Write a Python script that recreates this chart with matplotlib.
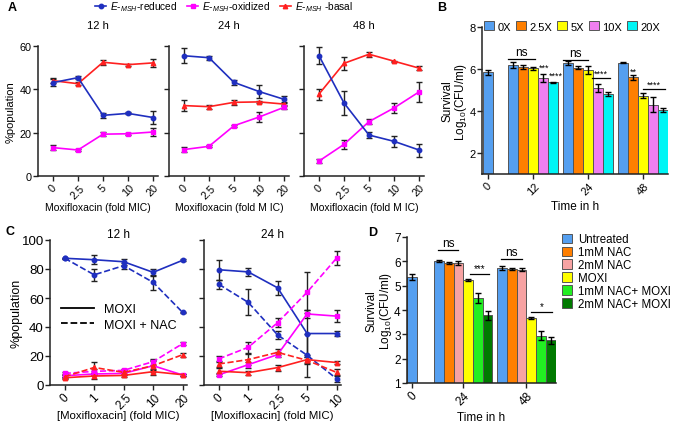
import matplotlib
matplotlib.use("Agg")
import matplotlib.pyplot as plt
import numpy as np
from matplotlib.lines import Line2D

plt.rcParams["font.family"] = ["Liberation Sans", "DejaVu Sans"]
plt.rcParams["mathtext.fontset"] = "custom"
plt.rcParams["mathtext.rm"] = "Liberation Sans"
plt.rcParams["mathtext.it"] = "Liberation Sans:italic"

#  Panel A data (%population vs fold MIC) 
a_conc = ["0", "2.5", "5", "10", "20"]
a_times = ["12 h", "24 h", "48 h"]
a_xlabels = ["Moxifloxacin (fold MIC)", "Moxifloxacin (fold M IC)", "Moxifloxacin (fold M IC)"]

a12_red = [43.1, 45.4, 28.0, 28.9, 27.0]
a12_red_err = [1.5, 0.8, 1.0, 0.5, 3.0]
a12_oxi = [13.1, 12.0, 19.3, 19.5, 20.3]
a12_oxi_err = [1.2, 0.5, 0.8, 0.5, 1.8]
a12_bas = [44.0, 42.6, 52.5, 51.4, 52.2]
a12_bas_err = [1.2, 0.8, 1.2, 0.5, 2.0]

a24_red = [55.5, 54.6, 43.2, 39.0, 35.4]
a24_red_err = [3.5, 1.0, 1.2, 3.0, 1.5]
a24_oxi = [12.2, 13.7, 23.2, 27.2, 31.7]
a24_oxi_err = [1.0, 0.5, 0.5, 2.5, 1.0]
a24_bas = [32.5, 32.0, 34.0, 34.2, 33.2]
a24_bas_err = [2.5, 1.0, 1.0, 0.5, 1.0]

a48_red = [55.5, 33.7, 18.9, 16.0, 12.0]
a48_red_err = [4.0, 5.5, 1.5, 2.5, 3.0]
a48_oxi = [6.9, 14.6, 25.1, 31.4, 38.8]
a48_oxi_err = [0.8, 2.0, 1.2, 2.5, 4.5]
a48_bas = [37.8, 52.0, 56.2, 53.0, 49.8]
a48_bas_err = [2.5, 3.0, 1.2, 0.3, 1.0]

#  Panel B data (survival, log10 CFU/ml) 
b_times = ["0", "12", "24", "48"]
b_doses = ["0X", "2.5X", "5X", "10X", "20X"]
b_t0 = 5.85
b_t0_err = 0.12
# rows = doses, columns = 12, 24, 48 h
b_vals = [[6.19, 6.30, 6.30],
          [6.08, 6.07, 5.61],
          [6.03, 5.95, 4.73],
          [5.56, 5.09, 4.30],
          [5.36, 4.80, 4.04]]
b_errs = [[0.12, 0.10, 0.02],
          [0.10, 0.05, 0.12],
          [0.07, 0.20, 0.12],
          [0.20, 0.20, 0.35],
          [0.04, 0.10, 0.08]]

#  Panel C data (%population, MOXI vs MOXI + NAC) 
c12_conc = ["0", "1", "2.5", "10", "20"]
c12_red_m = [87.4, 86.4, 85.0, 77.7, 86.0]
c12_red_m_err = [0.5, 3.0, 2.0, 2.5, 0.8]
c12_red_n = [87.4, 76.0, 82.3, 70.8, 50.1]
c12_red_n_err = [0.5, 4.0, 2.0, 5.0, 0.5]
c12_oxi_m = [6.4, 7.6, 8.0, 13.3, 6.9]
c12_oxi_m_err = [1.0, 1.0, 1.0, 3.0, 1.0]
c12_oxi_n = [8.0, 9.4, 10.1, 16.1, 28.5]
c12_oxi_n_err = [1.0, 1.5, 1.0, 2.0, 1.0]
c12_bas_m = [5.0, 6.2, 6.6, 9.2, 7.1]
c12_bas_m_err = [0.8, 2.0, 1.0, 2.0, 0.8]
c12_bas_n = [5.7, 12.1, 8.7, 13.3, 20.9]
c12_bas_n_err = [1.0, 3.5, 1.5, 4.0, 1.5]

c24_conc = ["0", "1", "2.5", "5", "10"]
c24_red_m = [79.5, 78.0, 67.0, 35.5, 35.5]
c24_red_m_err = [7.0, 3.0, 5.0, 16.0, 1.5]
c24_red_n = [69.5, 57.0, 34.5, 20.5, 4.3]
c24_red_n_err = [3.0, 9.0, 3.0, 15.0, 2.0]
c24_oxi_m = [7.0, 14.0, 21.0, 49.0, 47.5]
c24_oxi_m_err = [1.0, 2.0, 2.0, 3.0, 4.0]
c24_oxi_n = [18.0, 26.0, 43.0, 64.0, 87.5]
c24_oxi_n_err = [2.0, 4.0, 3.0, 14.0, 5.0]
c24_bas_m = [9.5, 8.5, 12.0, 17.5, 15.5]
c24_bas_m_err = [2.0, 1.5, 2.0, 3.0, 1.0]
c24_bas_n = [14.5, 17.5, 22.5, 17.0, 8.7]
c24_bas_n_err = [2.0, 4.0, 2.0, 2.0, 2.0]

#  Panel D data (survival with NAC) 
d_times = ["0", "24", "48"]
d_groups = ["Untreated", "1mM NAC", "2mM NAC", "MOXI", "1mM NAC+ MOXI", "2mM NAC+ MOXI"]
d_t0 = 5.35
d_t0_err = 0.12
d24 = [6.02, 5.93, 5.93, 5.22, 4.50, 3.78]
d24_err = [0.05, 0.04, 0.08, 0.04, 0.20, 0.18]
d48 = [5.72, 5.69, 5.66, 3.67, 2.95, 2.75]
d48_err = [0.08, 0.03, 0.07, 0.05, 0.18, 0.15]

#  Colours 
BLUE = "#1f2fbf"
MAGENTA = "#ff00ff"
RED = "#ff2020"
b_colors = ["#559ff0", "#ff7f00", "#ffff00", "#f07ff0", "#00f5f5"]
d_colors = ["#559ff0", "#ff7f00", "#f7a3a3", "#ffff00", "#22ee22", "#007a00"]

W, H = 675, 427
fig = plt.figure(figsize=(W / 100, H / 100), dpi=100)


def px_axes(l, t, r, b):
    return fig.add_axes([l / W, 1 - b / H, (r - l) / W, (b - t) / H])


def style(ax, fs=8):
    for s in ["top", "right"]:
        ax.spines[s].set_visible(False)
    for s in ["left", "bottom"]:
        ax.spines[s].set_linewidth(1.1)
        ax.spines[s].set_color("#222222")
    ax.tick_params(direction="out", length=3.5, width=1.0, labelsize=fs, pad=1, color="#222222")


def line(ax, y, e, color, marker, ls="-"):
    x = np.arange(len(y))
    ax.errorbar(x, y, yerr=e, color=color, marker=marker, ms=3.2, lw=1.2, ls=ls,
                ecolor="#222222", elinewidth=1.0, capsize=2, capthick=1.0)


#  Panel A 
a_data = [
    (a12_red, a12_red_err, a12_oxi, a12_oxi_err, a12_bas, a12_bas_err),
    (a24_red, a24_red_err, a24_oxi, a24_oxi_err, a24_bas, a24_bas_err),
    (a48_red, a48_red_err, a48_oxi, a48_oxi_err, a48_bas, a48_bas_err),
]
a_left = [38, 169, 304]
for i, (red, red_e, oxi, oxi_e, bas, bas_e) in enumerate(a_data):
    ax = px_axes(a_left[i], 47, a_left[i] + 120, 177)
    style(ax, fs=7.8)
    line(ax, bas, bas_e, RED, "^")
    line(ax, oxi, oxi_e, MAGENTA, "s")
    line(ax, red, red_e, BLUE, "o")
    ax.set_xlim(-0.6, 4.2)
    ax.set_ylim(0, 60)
    ax.set_yticks([0, 20, 40, 60])
    ax.set_xticks(range(len(a_conc)))
    ax.set_xticklabels(a_conc, rotation=45)
    ax.set_title(a_times[i], fontsize=8, pad=13)
    ax.set_xlabel(a_xlabels[i], fontsize=7.5)
    ax.xaxis.set_label_coords(0.5, -0.2)
    if i == 0:
        ax.set_ylabel("%population", fontsize=8)
        ax.yaxis.set_label_coords(-0.19, 0.5)
    else:
        ax.set_yticklabels([])

a_handles = [
    Line2D([], [], color=BLUE, marker="o", ms=3.2, lw=1.2),
    Line2D([], [], color=MAGENTA, marker="s", ms=3.2, lw=1.2),
    Line2D([], [], color=RED, marker="^", ms=3.2, lw=1.2),
]
a_labels = [r"$E$-$_{MSH}$-reduced", r"$E$-$_{MSH}$-oxidized", r"$E$-$_{MSH}$ -basal"]
fig.legend(a_handles, a_labels, loc="center", bbox_to_anchor=(224 / W, 1 - 7 / H), ncol=3,
           frameon=False, fontsize=7.3, handlelength=1.1, handletextpad=0.4, columnspacing=0.9,
           borderpad=0)

#  Panel B 
axb = px_axes(482, 28, 668, 175)
style(axb, fs=8)
b_centers = [-4.5, 0.0, 5.5, 11.0]
b_offsets = [-2, -1, 0, 1, 2]
bar_kw = dict(width=1.0, edgecolor="#555555", linewidth=0.7, capsize=2,
              error_kw=dict(elinewidth=1.0, capthick=1.0, ecolor="black"))
axb.bar(b_centers[0], b_t0, yerr=b_t0_err, color=b_colors[0], **bar_kw)
for j, dose in enumerate(b_doses):
    xs = [b_centers[k + 1] + b_offsets[j] for k in range(3)]
    axb.bar(xs, b_vals[j], yerr=b_errs[j], color=b_colors[j], label=dose, **bar_kw)
axb.set_xlim(-5.1, 13.5)
axb.set_ylim(1, 8)
axb.set_yticks([2, 4, 6, 8])
axb.set_xticks(b_centers)
axb.set_xticklabels(b_times, rotation=45)
axb.set_xlabel("Time in h", fontsize=8.5)
axb.xaxis.set_label_coords(0.5, -0.18)
axb.set_ylabel("Survival\nLog$_{10}$(CFU/ml)", fontsize=8.5, linespacing=1.0)
axb.yaxis.set_label_coords(-0.068, 0.5)
axb.legend(loc="upper left", bbox_to_anchor=(0.01, 1.04), ncol=5, frameon=False, fontsize=8,
           handlelength=0.9, handleheight=0.9, handletextpad=0.35, columnspacing=0.4, borderaxespad=0,
           borderpad=0)

# significance marks: (x0, x1, y, text)
b_sig = [(-2.5, 0.2, 6.5, "ns"), (3.0, 5.5, 6.45, "ns"), (5.9, 7.7, 5.55, "****"), (11.0, 13.2, 5.05, "****")]
for x0, x1, y, t in b_sig:
    axb.plot([x0, x1], [y, y], color="black", lw=0.9)
    axb.text((x0 + x1) / 2, y + 0.02, t, ha="center", va="bottom", fontsize=8.5 if t == "ns" else 6.5)
axb.text(1.1, 5.85, "***", ha="center", va="bottom", fontsize=6.5)
axb.text(2.25, 5.5, "****", ha="center", va="bottom", fontsize=6.5)
axb.text(10.0, 5.7, "**", ha="center", va="bottom", fontsize=6.5)

#  Panel C 
c_data = [
    (c12_conc, "12 h", [(c12_red_m, c12_red_m_err, BLUE, "o", "-"), (c12_red_n, c12_red_n_err, BLUE, "o", "--"),
                       (c12_oxi_m, c12_oxi_m_err, MAGENTA, "s", "-"), (c12_oxi_n, c12_oxi_n_err, MAGENTA, "s", "--"),
                       (c12_bas_m, c12_bas_m_err, RED, "^", "-"), (c12_bas_n, c12_bas_n_err, RED, "^", "--")]),
    (c24_conc, "24 h", [(c24_red_m, c24_red_m_err, BLUE, "o", "-"), (c24_red_n, c24_red_n_err, BLUE, "o", "--"),
                       (c24_oxi_m, c24_oxi_m_err, MAGENTA, "s", "-"), (c24_oxi_n, c24_oxi_n_err, MAGENTA, "s", "--"),
                       (c24_bas_m, c24_bas_m_err, RED, "^", "-"), (c24_bas_n, c24_bas_n_err, RED, "^", "--")]),
]
c_left = [50, 204]
for i, (conc, title, series) in enumerate(c_data):
    ax = px_axes(c_left[i], 241, c_left[i] + 137, 386)
    style(ax, fs=8.5)
    ax.tick_params(axis="y", labelsize=9.5)
    for y, e, col, mk, ls in series:
        line(ax, y, e, col, mk, ls)
    ax.set_xlim(-0.5, 4.15)
    ax.set_ylim(0, 100)
    ax.set_yticks([0, 20, 40, 60, 80, 100])
    ax.set_xticks(range(len(conc)))
    ax.set_xticklabels(conc, rotation=45)
    ax.set_title(title, fontsize=8.5, pad=-2)
    ax.set_xlabel("[Moxifloxacin] (fold MIC)", fontsize=8.2)
    ax.xaxis.set_label_coords(0.5, -0.175)
    if i == 0:
        ax.set_ylabel("%population", fontsize=9)
        ax.yaxis.set_label_coords(-0.2, 0.5)
        ax.legend([Line2D([], [], color="black", lw=1.3), Line2D([], [], color="black", lw=1.3, ls="--")],
                  ["MOXI", "MOXI + NAC"], loc="center left", bbox_to_anchor=(0.0, 0.47),
                  frameon=False, fontsize=9, handlelength=2.6, labelspacing=0.3)
    else:
        ax.set_yticklabels([])

#  Panel D 
axd = px_axes(407, 238, 556, 384)
style(axd, fs=8.5)
d_centers = [-5.25, 0.0, 6.5]
d_offsets = [-2.5, -1.5, -0.5, 0.5, 1.5, 2.5]
axd.bar(d_centers[0], d_t0, yerr=d_t0_err, color=d_colors[0], **bar_kw)
for j, g in enumerate(d_groups):
    xs = [d_centers[1] + d_offsets[j], d_centers[2] + d_offsets[j]]
    axd.bar(xs, [d24[j], d48[j]], yerr=[d24_err[j], d48_err[j]], color=d_colors[j], label=g, **bar_kw)
axd.set_xlim(-5.8, 9.55)
axd.set_ylim(1, 7)
axd.set_yticks(range(1, 8))
axd.set_xticks(d_centers)
axd.set_xticklabels(d_times, rotation=45)
axd.set_xlabel("Time in h", fontsize=8.5)
axd.xaxis.set_label_coords(0.5, -0.19)
axd.set_ylabel("Survival\nLog$_{10}$(CFU/ml)", fontsize=8.5, linespacing=1.0)
axd.yaxis.set_label_coords(-0.09, 0.5)
axd.legend(loc="upper left", bbox_to_anchor=(1.04, 1.025), frameon=False, fontsize=8.3,
           handlelength=0.9, handleheight=0.9, handletextpad=0.5, labelspacing=0.08, borderaxespad=0,
           borderpad=0)

d_sig = [(-2.6, -0.5, 6.48, "ns"), (0.7, 2.6, 5.48, "***"), (3.9, 6.0, 6.1, "ns"), (7.0, 9.1, 3.93, "*")]
for x0, x1, y, t in d_sig:
    axd.plot([x0, x1], [y, y], color="black", lw=0.9)
    axd.text((x0 + x1) / 2, y + 0.03, t, ha="center", va="bottom", fontsize=8.5 if t == "ns" else 7)

#  Panel letters 
for lab, x, y in [("A", 8, 8), ("B", 437, 8), ("C", 6, 232), ("D", 368, 233)]:
    fig.text(x / W, 1 - y / H, lab, fontsize=9, fontweight="bold", ha="left", va="center")

fig.savefig("out.png", dpi=100)
